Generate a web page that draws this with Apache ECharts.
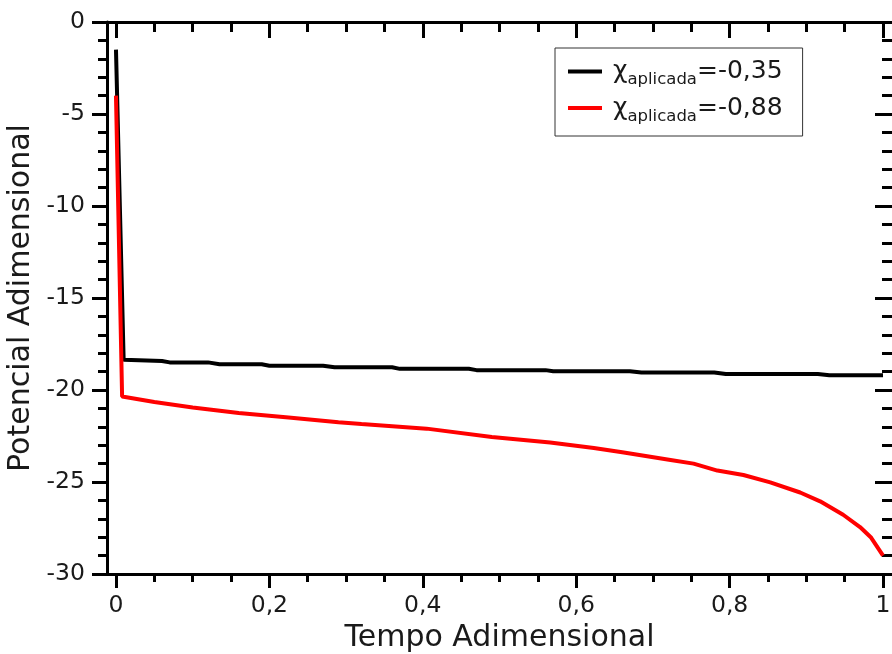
<!DOCTYPE html>
<html>
<head>
<meta charset="utf-8">
<script src="https://cdn.jsdelivr.net/npm/echarts@6/dist/echarts.min.js"></script>
<style>
html,body{margin:0;padding:0;background:#fff;}
#chart{width:892px;height:654px;}
</style>
</head>
<body>
<div id="chart"></div>
<script>
// ---- data ----
var timeBlack = [0, 0.01, 0.06, 0.07, 0.12, 0.135, 0.19, 0.2, 0.27, 0.285, 0.36, 0.37, 0.46, 0.47, 0.56, 0.57, 0.67, 0.685, 0.78, 0.795, 0.915, 0.93, 1.0];
var potBlack  = [-1.5, -18.35, -18.42, -18.5, -18.5, -18.6, -18.6, -18.68, -18.68, -18.76, -18.76, -18.85, -18.85, -18.92, -18.92, -18.98, -18.98, -19.05, -19.05, -19.13, -19.13, -19.2, -19.2];
var timeRed = [0, 0.008, 0.05, 0.1, 0.16, 0.225, 0.29, 0.32, 0.405, 0.49, 0.566, 0.623, 0.66, 0.723, 0.753, 0.784, 0.818, 0.853, 0.892, 0.918, 0.948, 0.97, 0.984, 1.0];
var potRed  = [-4.0, -20.35, -20.65, -20.95, -21.25, -21.5, -21.75, -21.85, -22.1, -22.55, -22.85, -23.15, -23.38, -23.8, -24.0, -24.38, -24.62, -25.02, -25.57, -26.05, -26.78, -27.45, -28.0, -29.0];
var seriesNames = ['-0,35', '-0,88'];
var seriesColors = ['#000000', '#ff0000'];
var xMajorTicks = [0, 0.2, 0.4, 0.6, 0.8, 1];
var xMinorTicks = [0.05, 0.1, 0.15, 0.25, 0.3, 0.35, 0.45, 0.5, 0.55, 0.65, 0.7, 0.75, 0.85, 0.9, 0.95];
var yTickStep = 5;
var xTitle = 'Tempo Adimensional';
var yTitle = 'Potencial Adimensional';

function pairs(xs, ys) { return xs.map(function (x, i) { return [x, ys[i]]; }); }

var FONT = 'DejaVu Sans';
var TXT = '#1a1a1a';
var XMIN = -0.0117, XMAX = 1.0117;

function xAx(pos, inside, values, len, main) {
  return {
    type: 'value', position: pos, min: XMIN, max: XMAX,
    axisLine: { show: main, onZero: false, lineStyle: { color: '#000', width: 3 } },
    axisTick: { show: true, inside: inside, length: len, customValues: values, lineStyle: { color: '#000', width: 3 } },
    axisLabel: (pos === 'bottom' && main) ? {
      show: true, customValues: values, fontSize: 23.5, fontFamily: FONT, color: TXT, margin: 20,
      formatter: function (v) { return String(v).replace('.', ','); }
    } : { show: false },
    splitLine: { show: false }
  };
}

var chart = echarts.init(document.getElementById('chart'), null, { renderer: 'canvas' });
var xBottom = xAx('bottom', false, xMajorTicks, 14, true);
xBottom.name = xTitle;
xBottom.nameLocation = 'middle';
xBottom.nameGap = 47;
xBottom.nameTextStyle = { fontSize: 30, fontFamily: FONT, color: TXT };

chart.setOption({
  animation: false,
  backgroundColor: '#ffffff',
  grid: { left: 107, top: 22, right: 0, bottom: 80, containLabel: false, outerBoundsMode: 'none' },
  xAxis: [
    xBottom,
    xAx('bottom', false, xMinorTicks, 8, false),
    xAx('top', true, xMajorTicks, 16, true),
    xAx('top', true, xMinorTicks, 10, false)
  ],
  yAxis: [
    {
      type: 'value', position: 'left', min: -30, max: 0, interval: yTickStep,
      axisLine: { show: true, onZero: false, lineStyle: { color: '#000', width: 3 } },
      axisTick: { show: true, inside: false, length: 15, lineStyle: { color: '#000', width: 3 } },
      minorTick: { show: true, splitNumber: 5, length: 9, lineStyle: { color: '#000', width: 3 } },
      axisLabel: { fontSize: 23.5, fontFamily: FONT, color: TXT, margin: 22 },
      splitLine: { show: false },
      name: yTitle, nameLocation: 'middle', nameGap: 67, nameRotate: 90,
      nameTextStyle: { fontSize: 30, fontFamily: FONT, color: TXT }
    },
    {
      type: 'value', position: 'right', min: -30, max: 0, interval: yTickStep,
      axisLine: { show: false, onZero: false },
      axisTick: { show: true, inside: true, length: 17, lineStyle: { color: '#000', width: 3 } },
      minorTick: { show: true, splitNumber: 5, length: 10, lineStyle: { color: '#000', width: 3 } },
      axisLabel: { show: false },
      splitLine: { show: false }
    }
  ],
  legend: {
    orient: 'vertical', left: 555, top: 48,
    padding: [11, 20, 11, 13], itemGap: 7,
    itemWidth: 34, itemHeight: 4, icon: 'rect',
    borderColor: '#333', borderWidth: 1, backgroundColor: '#fff',
    data: seriesNames,
    formatter: function (n) { return '{chi|χ}{sub|aplicada}{val|=' + n + '}'; },
    textStyle: {
      fontFamily: FONT, color: TXT,
      rich: {
        chi: { fontSize: 25, fontFamily: FONT, color: TXT, padding: [0, 0, 0, 6], lineHeight: 26 },
        sub: { fontSize: 16.5, fontFamily: FONT, color: TXT, lineHeight: 26, verticalAlign: 'bottom', padding: [0, 0, -4, 0] },
        val: { fontSize: 25, fontFamily: FONT, color: TXT, lineHeight: 26 }
      }
    }
  },
  series: [
    {
      name: seriesNames[0], type: 'line', data: pairs(timeBlack, potBlack),
      showSymbol: false, symbol: 'none', color: seriesColors[0],
      lineStyle: { color: seriesColors[0], width: 4 }, z: 3
    },
    {
      name: seriesNames[1], type: 'line', data: pairs(timeRed, potRed),
      showSymbol: false, symbol: 'none', color: seriesColors[1],
      lineStyle: { color: seriesColors[1], width: 4 }, z: 4
    }
  ]
});
</script>
</body>
</html>
